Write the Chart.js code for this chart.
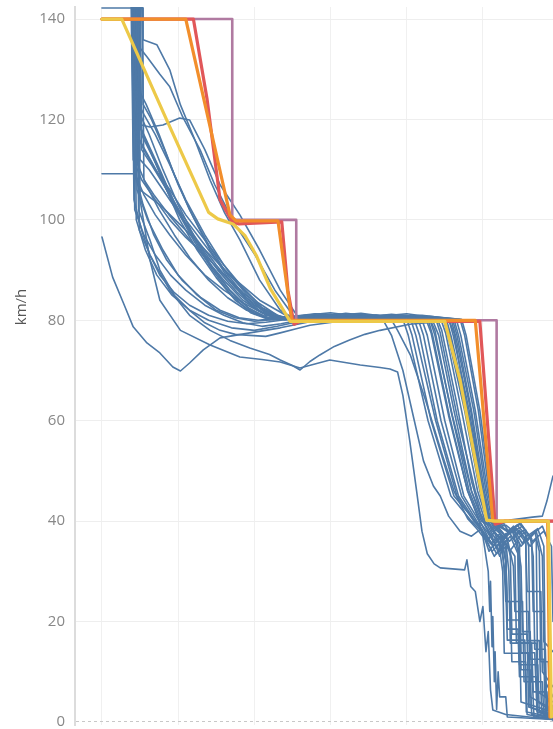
<!doctype html>
<html lang="en">
  <head>
    <meta charset="utf-8">
    <script src="https://cdn.jsdelivr.net/npm/chart.js@4.4.1/dist/chart.umd.min.js"></script>
    <title>Speed profiles</title>
    <style>
      html, body { margin: 0; padding: 0; background: #fff; }
      #wrap { width: 553px; height: 729px; position: relative; }
    </style>
  </head>
  <body>
    <div id="wrap"><canvas id="SpeedChart"></canvas></div>

<script>
// axis ticks
const speedTicks = [0, 20, 40, 60, 80, 100, 120, 140];
const distTicks = [1, 2, 3, 4, 5, 6];

// speed limit / reference profiles  [distance, km/h]
const purpleRun = [[1.0,140],[2.71,140],[2.71,100],[3.55,100],[3.55,80],[6.18,80],[6.18,40],[6.93,40]];
const redRun = [[1.0,140],[2.20,140],[2.38,124],[2.55,104],[2.71,99.6],[2.80,99.2],[3.36,99.6],[3.44,86],[3.52,79.2],[3.60,79.8],[5.96,79.8],[6.16,39.4],[6.29,40],[6.92,40]];
const orangeRun = [[1.0,140],[2.10,140],[2.68,101],[2.76,99.8],[3.31,99.8],[3.49,80],[5.90,80],[6.13,40],[6.85,40],[6.88,1]];
const yellowRun = [[1.0,140],[1.26,140],[1.84,120.2],[2.40,101.5],[2.52,100.2],[2.72,99.2],[2.88,96.8],[3.03,92.8],[3.21,86.3],[3.47,79.8],[3.60,79.8],[5.50,79.8],[5.70,68.1],[6.05,40.2],[6.16,40],[6.86,40],[6.90,1]];

// recorded runs  [distance, km/h]
const run01 = [[1.0,142.2],[1.54,142.2],[1.54,135.9],[1.72,134.9],[1.89,129.9],[2.03,122.9],[2.22,115.9],[2.42,107.9],[2.61,101.4],[2.81,96],[3.07,88],[3.34,82],[3.57,79.9],[3.9,80.6],[4.3,80.2],[4.7,80.9],[5.2,80.4],[5.55,80.2],[5.62,77.5],[5.80,62],[5.97,46],[6.07,40.5],[6.15,38.6],[6.30,39.2],[6.45,37.4],[6.56,38.3],[6.58,16.2],[6.74,16.2],[6.77,2.5],[6.92,1.2]];
const run02 = [[1.0,146],[1.44,146],[1.46,135],[1.59,132.5],[1.76,129],[1.89,126.5],[2.06,120.5],[2.29,113.9],[2.48,107],[2.75,99],[3.01,93],[3.27,86],[3.53,80.5],[3.8,81.2],[4.2,80.5],[4.6,81.0],[5.0,80.6],[5.40,80.3],[5.46,78],[5.65,64],[5.85,48],[5.97,41.5],[6.02,40],[6.15,38.5],[6.28,36.8],[6.40,38.4],[6.48,35.5],[6.50,13.8],[6.68,13.8],[6.71,2.0],[6.92,1.0]];
const run03 = [[1.0,146],[1.47,146],[1.49,119],[1.63,118.5],[1.80,118.9],[2.02,120.3],[2.15,119.9],[2.35,114],[2.55,107],[2.81,101],[3.07,94],[3.34,86],[3.60,80],[3.9,80.8],[4.4,81.4],[4.8,80.6],[5.30,80.4],[5.37,78],[5.58,62],[5.82,46],[5.98,40],[6.10,39],[6.25,36],[6.38,38.5],[6.46,34],[6.48,20],[6.50,10.4],[6.62,10.4],[6.64,1.5],[6.92,0.8]];
const run04 = [[1.0,109.2],[1.43,109.2],[1.50,106],[1.63,104.5],[1.76,103],[2.03,99],[2.29,95],[2.68,89],[3.07,84],[3.47,80.5],[3.8,80.3],[4.2,81.0],[4.6,80.4],[5.1,80.7],[5.60,80.2],[5.66,77],[5.85,62],[6.02,46],[6.10,40.2],[6.20,39.5],[6.35,37.5],[6.52,39],[6.64,36.5],[6.66,22],[6.80,22],[6.82,5],[6.92,3]];
const run05 = [[1.0,96.6],[1.14,88.6],[1.28,83.5],[1.41,78.7],[1.59,75.5],[1.76,73.5],[1.93,70.7],[2.03,69.9],[2.15,71.5],[2.33,74.1],[2.55,76.5],[2.94,77.5],[3.34,78.5],[3.73,79.7],[4.1,80.4],[4.5,80.9],[4.9,80.3],[5.20,80.1],[5.27,77],[5.50,60],[5.75,45],[5.95,40],[6.05,38],[6.18,35],[6.30,37.5],[6.36,33],[6.38,17.5],[6.58,17.5],[6.60,3],[6.92,1.5]];
const run06 = [[1.0,146],[1.47,146],[1.50,104],[1.63,92],[1.76,84],[2.03,78],[2.42,75.1],[2.81,72.7],[3.10,72.2],[3.34,71.7],[3.60,70.5],[3.99,72.1],[4.39,71.1],[4.65,70.6],[4.78,70.3],[4.88,69.7],[4.95,65],[5.04,56],[5.13,46],[5.20,38],[5.27,33.5],[5.36,31.5],[5.44,30.7],[5.76,30.3],[5.79,32.3],[5.84,27],[5.90,26],[5.96,20],[6.00,23],[6.04,14],[6.07,18],[6.10,6.4],[6.13,2.4],[6.30,1.5],[6.92,0.5]];
const run07 = [[1.0,146],[1.46,146],[1.49,98],[1.63,93],[1.89,86],[2.15,81],[2.42,78],[2.68,76],[2.94,74.5],[3.20,73.2],[3.34,72.1],[3.50,71],[3.60,70.1],[3.73,71.8],[3.86,73.1],[4.05,74.8],[4.25,76.1],[4.45,77.2],[4.65,78],[5.04,79.2],[5.35,79.6],[5.42,77],[5.62,62],[5.85,46],[6.00,40],[6.12,37],[6.22,33],[6.30,36],[6.34,30],[6.36,15.7],[6.70,15.7],[6.72,4],[6.92,2]];
const run08 = [[1.0,146],[1.45,146],[1.48,102],[1.63,96],[1.76,90],[1.95,85],[2.15,82],[2.35,79.5],[2.55,78],[2.75,77.2],[2.94,77],[3.15,76.8],[3.34,77.5],[3.55,78.3],[3.73,79],[4.12,79.8],[4.5,80.6],[5.0,80.3],[5.45,80.1],[5.51,77.5],[5.72,62],[5.93,46],[6.05,40.3],[6.15,38],[6.28,39.3],[6.42,36],[6.55,37.8],[6.60,35],[6.62,12.5],[6.80,12.5],[6.82,1.5],[6.92,0.5]];
const run09 = [[1.0,146],[1.42,146],[1.45,124],[1.55,121],[1.70,117],[1.89,111],[2.10,104],[2.35,97],[2.60,91],[2.85,86],[3.10,82],[3.30,80.3],[3.6,80.9],[4.0,81.5],[4.4,80.7],[4.9,81.1],[5.3,80.5],[5.62,80.2],[5.68,77],[5.88,62],[6.04,46],[6.12,40.2],[6.22,38.5],[6.35,36],[6.48,38.2],[6.62,35],[6.70,36.5],[6.72,6],[6.92,4]];
const run10 = [[1.0,146],[1.40,146],[1.43,118],[1.55,114],[1.70,110],[1.89,106],[2.10,101],[2.35,96],[2.60,91],[2.85,86.5],[3.10,82.5],[3.35,80.2],[3.7,80.5],[4.1,81.2],[4.5,80.6],[4.80,80.3],[5.10,80.1],[5.17,77],[5.40,60],[5.68,45],[5.90,40],[6.00,37.5],[6.12,34],[6.25,36],[6.30,32],[6.32,24],[6.52,24],[6.54,8],[6.65,8],[6.67,1],[6.92,0.5]];
const run11 = [[1.0,146],[1.38,146],[1.41,112],[1.52,108],[1.70,104],[1.89,100],[2.10,96.5],[2.35,93],[2.60,89],[2.85,85.5],[3.10,82.5],[3.40,80.3],[3.8,80.8],[4.2,80.3],[4.60,81],[4.95,80.2],[5.02,77],[5.28,60],[5.58,45],[5.85,40],[5.98,38],[6.10,35.5],[6.22,37.5],[6.35,34],[6.45,36],[6.50,31],[6.52,18],[6.62,18],[6.64,8],[6.78,8],[6.80,1],[6.92,0.5]];
const run12 = [[1.0,146],[1.47,146],[1.50,121],[1.62,117],[1.80,110],[2.00,103],[2.20,97],[2.45,90.5],[2.70,85.5],[2.95,82],[3.20,80.4],[3.5,80.7],[3.9,81.3],[4.3,80.5],[4.8,80.9],[5.2,80.3],[5.50,80.2],[5.56,77.5],[5.78,62],[5.98,46],[6.05,40.5],[6.12,38],[6.25,36.5],[6.40,39],[6.55,36],[6.68,38],[6.74,34],[6.76,12],[6.86,12],[6.88,1],[6.92,0.5]];
const run13 = [[1.0,146],[1.50,146],[1.52,114],[1.65,111],[1.85,106],[2.05,101],[2.30,96],[2.55,91],[2.80,87],[3.05,83.5],[3.30,81],[3.50,80.2],[3.9,80.6],[4.4,81.2],[4.9,80.5],[5.3,80.8],[5.70,80.2],[5.76,77],[5.94,62],[6.07,47],[6.12,41],[6.18,39],[6.30,37],[6.45,39.2],[6.58,37],[6.72,38.5],[6.80,35],[6.82,8],[6.92,5]];
const run14 = [[1.0,146],[1.41,146],[1.44,109],[1.55,105],[1.70,101],[1.89,97],[2.10,93],[2.35,89],[2.60,86],[2.85,83.5],[3.10,81.5],[3.40,80.2],[3.8,80.6],[4.3,80.2],[4.8,80.8],[5.25,80.3],[5.32,77.5],[5.55,61],[5.80,46],[5.96,40],[6.06,37],[6.18,33.5],[6.28,36],[6.42,33],[6.44,15.7],[6.64,15.7],[6.66,6],[6.84,6],[6.86,1],[6.92,0.5]];
const run15 = [[1.0,146],[1.39,146],[1.42,104],[1.52,98],[1.63,93],[1.76,89],[1.95,85.5],[2.15,83],[2.40,81],[2.65,79.8],[2.90,79.3],[3.15,79.6],[3.45,80.2],[3.8,80.9],[4.2,80.4],[4.6,81],[5.05,80.3],[5.12,77],[5.38,60],[5.66,45],[5.88,40],[5.98,38.5],[6.08,34],[6.20,36.5],[6.26,30],[6.28,13.7],[6.60,13.7],[6.62,3],[6.92,1]];
const run16 = [[1.0,146],[1.46,146],[1.49,116],[1.60,113],[1.78,108],[1.98,102],[2.20,96],[2.45,90],[2.70,85],[2.95,81.5],[3.20,80.1],[3.5,80.5],[3.9,81],[4.3,80.4],[4.8,81.2],[5.2,80.6],[5.58,80.2],[5.64,77],[5.84,62],[6.00,46],[6.08,40.5],[6.16,39],[6.28,36.5],[6.40,38.5],[6.52,35.5],[6.56,37],[6.58,26],[6.76,26],[6.78,10],[6.92,7]];
const run17 = [[1.0,146],[1.43,146],[1.46,106],[1.60,100],[1.80,94],[2.00,89],[2.25,85],[2.50,82],[2.75,80.5],[3.0,79.8],[3.4,80.3],[3.9,80.7],[4.4,80.2],[4.80,80.1],[4.88,78],[5.05,73],[5.25,64],[5.45,54],[5.62,46],[5.80,40.5],[5.92,38.5],[6.05,36],[6.15,37.8],[6.25,34],[6.30,35],[6.32,20.3],[6.48,20.3],[6.50,4],[6.92,2]];
const run18 = [[1.0,146],[1.52,146],[1.54,123],[1.65,120],[1.82,114],[2.00,107],[2.20,100.5],[2.42,94],[2.65,88.5],[2.90,84],[3.15,81],[3.40,80.1],[3.8,80.5],[4.2,81.4],[4.7,80.6],[5.2,81],[5.65,80.2],[5.71,77],[5.90,62],[6.06,46],[6.14,40.5],[6.20,39],[6.32,38],[6.48,39.5],[6.62,37],[6.78,39],[6.86,36],[6.88,4],[6.92,2.5]];
const run19 = [[1.0,146],[1.44,146],[1.47,111],[1.58,107],[1.75,102],[1.95,97],[2.15,92.5],[2.40,88],[2.65,84.5],[2.90,82],[3.15,80.6],[3.40,80.1],[3.8,80.4],[4.3,81],[4.8,80.5],[5.38,80.3],[5.44,77.5],[5.66,61],[5.90,46],[6.03,40],[6.12,37.5],[6.24,35],[6.36,37],[6.46,33.5],[6.48,11.4],[6.72,11.4],[6.74,2],[6.92,1]];
const run20 = [[1.0,146],[1.40,146],[1.43,102],[1.55,97],[1.70,93],[1.90,89],[2.10,86],[2.35,83],[2.60,81],[2.85,79.5],[3.10,78.8],[3.35,79.3],[3.65,80.2],[4.0,80.8],[4.5,80.3],[5.15,80.2],[5.22,77],[5.45,60],[5.72,45],[5.92,40],[6.02,37.5],[6.14,35],[6.24,37],[6.30,32],[6.32,18.5],[6.46,18.5],[6.48,9],[6.70,9],[6.72,1.5],[6.92,0.5]];
const run21 = [[1.0,146],[1.42,146],[1.45,100],[1.57,94],[1.72,89],[1.92,85],[2.15,82],[2.40,80],[2.70,78.5],[3.00,78],[3.30,78.8],[3.60,79.8],[4.0,80.5],[4.40,80.2],[4.70,79.8],[4.80,77],[4.95,70],[5.10,60],[5.22,52],[5.35,47],[5.44,45],[5.55,41],[5.70,38],[5.85,37],[5.98,38.5],[6.05,36],[6.15,33],[6.25,35],[6.30,27],[6.32,16.3],[6.55,16.3],[6.57,2],[6.92,1]];
const run22 = [[1.0,146],[1.48,146],[1.51,118],[1.63,114],[1.82,107],[2.02,100],[2.25,94],[2.50,88.5],[2.75,84],[3.00,81.3],[3.25,80.1],[3.6,80.5],[4.0,81.1],[4.5,80.6],[5.0,81.3],[5.48,80.3],[5.54,77],[5.76,62],[5.96,46],[6.06,40.2],[6.14,38],[6.26,36],[6.38,38.2],[6.50,35],[6.62,37],[6.66,33],[6.68,14.5],[6.82,14.5],[6.84,1],[6.92,0.5]];
const run23 = [[1.0,146],[1.45,146],[1.48,126],[1.58,123],[1.75,117],[1.95,109],[2.15,102],[2.40,95],[2.65,89],[2.90,84.5],[3.15,81.5],[3.45,80.2],[3.8,80.9],[4.2,80.4],[4.7,81],[5.30,80.3],[5.37,77],[5.60,61],[5.85,46],[6.00,40],[6.10,37],[6.22,34],[6.32,36.5],[6.40,31],[6.42,22],[6.60,22],[6.62,5],[6.92,2.5]];
const run24 = [[1.0,146],[1.53,146],[1.55,108],[1.68,105],[1.88,101],[2.10,97],[2.35,92.5],[2.60,88],[2.85,84],[3.10,81.5],[3.35,80.3],[3.7,80.6],[4.1,81.2],[4.6,80.4],[5.1,80.9],[5.72,80.2],[5.78,77],[5.96,62],[6.09,47],[6.15,40.5],[6.22,39],[6.35,38],[6.50,39.5],[6.65,36],[6.80,38],[6.90,35],[6.92,20]];
const run25 = [[1.0,146],[1.39,146],[1.42,110],[1.54,103],[1.68,97],[1.85,92],[2.05,88],[2.30,84.5],[2.55,82],[2.80,80.5],[3.05,80],[3.4,80.6],[3.8,81.3],[4.3,80.5],[4.70,80.7],[5.00,80.2],[5.07,77],[5.32,60],[5.62,45],[5.90,40],[6.00,38],[6.12,35.5],[6.22,37],[6.28,31],[6.30,24],[6.36,24],[6.38,12],[6.56,12],[6.58,1.5],[6.92,0.5]];
const run26 = [[1.0,146],[1.47,146],[1.50,112],[1.62,110],[1.80,106],[2.00,101.5],[2.25,96],[2.50,91],[2.75,86.5],[3.00,83],[3.25,81],[3.55,80.2],[3.9,80.7],[4.4,81.1],[4.9,80.4],[5.55,80.3],[5.61,77],[5.82,62],[6.00,46],[6.09,40.3],[6.18,38.5],[6.30,37],[6.44,38.6],[6.58,36],[6.70,38],[6.78,33],[6.80,16],[6.92,14]];
const run27 = [[1.0,146],[1.43,146],[1.46,120],[1.58,116],[1.76,110],[1.96,103],[2.18,97],[2.42,91],[2.68,86],[2.92,82.5],[3.18,80.4],[3.5,80.8],[3.9,80.3],[4.4,81],[4.9,80.4],[5.28,80.2],[5.34,77],[5.56,61],[5.80,46],[5.94,40.5],[6.00,37],[6.04,33],[6.07,30],[6.09,22],[6.10,28],[6.12,15],[6.13,21],[6.15,8],[6.16,14],[6.18,2.5],[6.20,10],[6.22,5],[6.30,5],[6.32,1],[6.92,0.5]];
const run28 = [[1.0,146],[1.49,146],[1.52,117],[1.65,113],[1.84,107],[2.05,100.5],[2.28,95],[2.52,90],[2.78,85.5],[3.02,82.2],[3.28,80.4],[3.6,80.7],[4.0,81.2],[4.5,80.5],[5.0,80.8],[5.52,80.2],[5.58,77],[5.80,62],[5.99,46],[6.08,40.3],[6.20,39],[6.35,40.2],[6.50,40.5],[6.65,40.8],[6.78,41],[6.84,44],[6.92,49]];

const blueRuns = [run01, run02, run03, run04, run05, run06, run07, run08, run09, run10,
  run11, run12, run13, run14, run15, run16, run17, run18, run19, run20,
  run21, run22, run23, run24, run25, run26, run27, run28];

function toPoints(run) {
  return run.map(function (p) { return {x: p[0], y: p[1]}; });
}

// first dataset is drawn on top in chart.js
var datasets = [
  {data: toPoints(yellowRun), borderColor: '#edc948', borderWidth: 3.2},
  {data: toPoints(orangeRun), borderColor: '#f28e2b', borderWidth: 3.2},
  {data: toPoints(redRun), borderColor: '#e15759', borderWidth: 3.2},
  {data: toPoints(purpleRun), borderColor: '#b07aa1', borderWidth: 2.6}
];
blueRuns.forEach(function (run) {
  datasets.push({data: toPoints(run), borderColor: '#4e79a7', borderWidth: 1.6});
});

// y axis title drawn by hand so it sits where the original has it
const axisTitle = {
  id: 'axisTitle',
  afterDraw: function (chart) {
    var ctx = chart.ctx;
    ctx.save();
    ctx.translate(22, 307);
    ctx.rotate(-Math.PI / 2);
    ctx.font = '15px "Open Sans"';
    ctx.fillStyle = '#555';
    ctx.textAlign = 'center';
    ctx.textBaseline = 'middle';
    ctx.fillText('km/h', 0, 0);
    ctx.restore();
  }
};

var ctx = document.getElementById('SpeedChart').getContext('2d');
var speedChart = new Chart(ctx, {
  type: 'line',
  data: {datasets: datasets},
  plugins: [axisTitle],
  options: {
    responsive: true,
    maintainAspectRatio: false,
    animation: false,
    layout: {padding: {top: 7, bottom: 4, left: 0, right: 0}},
    elements: {
      point: {radius: 0},
      line: {tension: 0, borderJoinStyle: 'round', borderCapStyle: 'round', fill: false}
    },
    scales: {
      x: {
        type: 'linear',
        min: 0.646,
        max: 6.92,
        afterBuildTicks: function (axis) {
          axis.ticks = distTicks.map(function (v) { return {value: v}; });
        },
        afterFit: function (axis) {
          axis.height = 0;
          axis.paddingLeft = 0;
          axis.paddingRight = 0;
        },
        ticks: {display: false},
        grid: {color: '#f0f0f0', lineWidth: 1, drawTicks: false},
        border: {display: false}
      },
      y: {
        type: 'linear',
        min: -0.6,
        max: 142.4,
        afterBuildTicks: function (axis) {
          axis.ticks = speedTicks.map(function (v) { return {value: v}; });
        },
        afterFit: function (axis) {
          axis.width = 75;
          axis.paddingTop = 0;
          axis.paddingBottom = 0;
        },
        ticks: {
          padding: 10,
          color: '#888',
          font: {family: 'Open Sans', size: 15}
        },
        grid: {
          drawTicks: false,
          lineWidth: 1,
          color: function (c) { return c.tick && c.tick.value === 0 ? '#c8c8c8' : '#eeeeee'; }
        },
        border: {
          display: true,
          color: '#dcdcdc',
          width: 2,
          dash: function (c) { return c.tick && c.tick.value === 0 ? [3, 3] : []; }
        }
      }
    },
    plugins: {
      legend: {display: false},
      tooltip: {enabled: false},
      title: {display: false}
    }
  }
});
</script>
  </body>
</html>
